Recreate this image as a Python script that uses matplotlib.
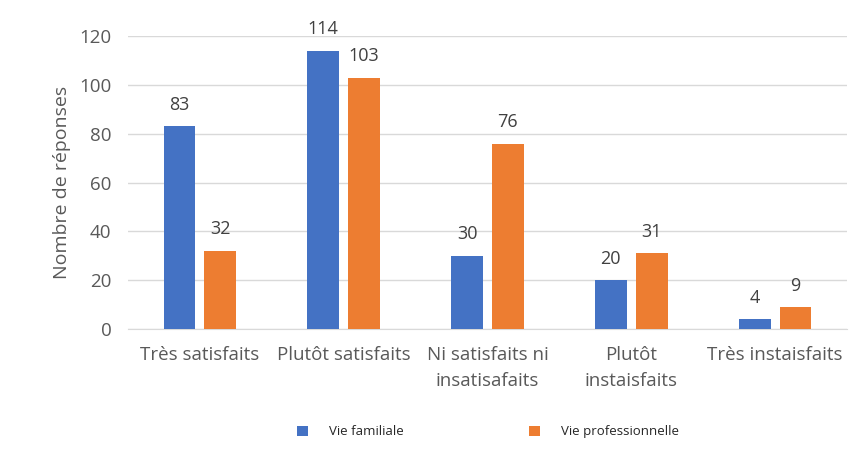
import numpy as np
import matplotlib.pyplot as plt

# data
categories = ['Très satisfaits', 'Plutôt satisfaits', 'Ni satisfaits ni\ninsatisafaits',
              'Plutôt\ninstaisfaits', 'Très instaisfaits']
vie_familiale = [83, 114, 30, 20, 4]
vie_professionnelle = [32, 103, 76, 31, 9]

blue = '#4472C4'
orange = '#ED7D31'
txt = '#595959'

plt.rcParams['font.family'] = ['Open Sans', 'DejaVu Sans']

fig = plt.figure(figsize=(8.59, 4.57), dpi=100)
ax = fig.add_axes([0.149, 0.280, 0.837, 0.641])

x = np.arange(len(categories))
w = 0.222
off = 0.142
b1 = ax.bar(x - off, vie_familiale, w, color=blue, label='Vie familiale', zorder=3)
b2 = ax.bar(x + off, vie_professionnelle, w, color=orange, label='Vie professionnelle', zorder=3)

for bars in (b1, b2):
    for b in bars:
        ax.annotate(str(int(b.get_height())), (b.get_x() + b.get_width() / 2, b.get_height()),
                    xytext=(0, 9), textcoords='offset points', ha='center', va='bottom',
                    fontsize=13, color='#404040')

ax.set_xlim(-0.5, len(categories) - 0.5)
ax.set_ylim(0, 120)
ax.set_yticks(range(0, 121, 20))
ax.set_xticks(x)
ax.set_xticklabels(categories, fontsize=13.5, color=txt, linespacing=1.6)
ax.tick_params(axis='y', labelsize=13.5, labelcolor=txt, length=0, pad=12)
ax.tick_params(axis='x', length=0, pad=12)
ax.set_ylabel('Nombre de réponses', fontsize=14, color=txt, labelpad=6)
ax.grid(axis='y', color='#D9D9D9', linewidth=1, zorder=0)
for s in ['top', 'right', 'left']:
    ax.spines[s].set_visible(False)
ax.spines['bottom'].set_color('#D9D9D9')

fig.legend(loc='center', bbox_to_anchor=(0.568, 0.055), ncol=2, frameon=False,
           fontsize=9.5, handlelength=0.8, handleheight=0.8, handletextpad=1.6,
           columnspacing=9.5, labelcolor='#262626')

fig.savefig('out.png', dpi=100)
